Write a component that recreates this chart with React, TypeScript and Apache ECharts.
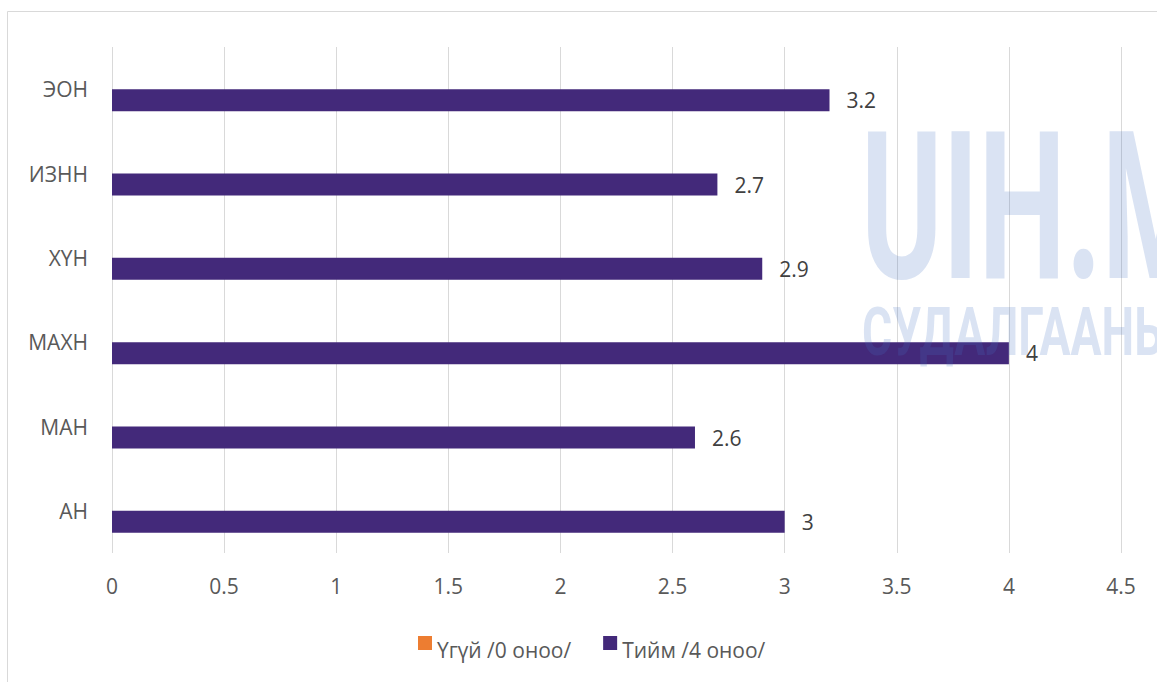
import React, { useEffect, useRef } from "react";
import * as echarts from "echarts";

const categories = ["АН", "МАН", "МАХН", "ХҮН", "ИЗНН", "ЭОН"];
const noValues = [0, 0, 0, 0, 0, 0];
const yesValues = [3, 2.6, 4, 2.9, 2.7, 3.2];
const seriesNames = ["Үгүй /0 оноо/", "Тийм /4 оноо/"];
const seriesColors = ["#ed7d31", "#43297a"];

const FONT = "'Open Sans', sans-serif";
// square in the upper half of a 14x28 icon box, so the text sits a bit lower
const LEGEND_ICON = "path://M0,0h14v14h-14zM0,27.95h0.05v0.05h-0.05z";

export default function App() {
  const ref = useRef<HTMLDivElement>(null);
  useEffect(() => {
    if (!ref.current) return;
    const chart = echarts.init(ref.current, null, { renderer: "svg" });
    chart.setOption({
      animation: false,
      backgroundColor: "#ffffff",
      grid: { left: 112, right: 36, top: 47, bottom: 129, containLabel: false },
      legend: {
        data: seriesNames,
        left: 418,
        top: 636,
        padding: 0,
        itemWidth: 14,
        itemHeight: 28,
        itemGap: 32,
        icon: LEGEND_ICON,
        textStyle: {
          fontSize: 21,
          color: "#595959",
          fontFamily: FONT,
        },
      },
      xAxis: {
        type: "value",
        min: 0,
        max: 4.5,
        interval: 0.5,
        axisLine: { show: false },
        axisTick: { show: false },
        splitLine: { show: true, lineStyle: { color: "#d9d9d9", width: 1 } },
        axisLabel: { fontSize: 21, color: "#595959", fontFamily: FONT, margin: 22 },
      },
      yAxis: {
        type: "category",
        data: categories,
        axisLine: { show: false },
        axisTick: { show: false },
        axisLabel: { fontSize: 21, color: "#595959", fontFamily: FONT, margin: 24 },
      },
      series: [
        {
          name: seriesNames[0],
          type: "bar",
          data: noValues,
          barWidth: 22,
          barGap: "0%",
          itemStyle: { color: seriesColors[0] },
        },
        {
          name: seriesNames[1],
          type: "bar",
          data: yesValues,
          barWidth: 22,
          barGap: "0%",
          itemStyle: { color: seriesColors[1] },
          label: {
            show: true,
            position: "right",
            distance: 17,
            fontSize: 21,
            color: "#404040",
            fontFamily: FONT,
          },
        },
      ],
      graphic: [
        {
          type: "rect",
          z: 200,
          silent: true,
          shape: { x: 7.5, y: 11.5, width: 1300, height: 800 },
          style: { fill: "none", stroke: "#d9d9d9", lineWidth: 1 },
        },
        {
          type: "text",
          z: 150,
          silent: true,
          x: 861,
          y: 207,
          scaleX: 0.6,
          style: {
            text: "UIH.M",
            fontFamily: "Roboto, sans-serif",
            fontWeight: "bold",
            fontSize: 206,
            fill: "rgba(68,114,196,0.2)",
            textAlign: "left",
            textVerticalAlign: "middle",
          },
        },
        {
          type: "text",
          z: 150,
          silent: true,
          x: 862,
          y: 332,
          scaleX: 0.7,
          style: {
            text: "СУДАЛГААНЫ",
            fontFamily: "Roboto, sans-serif",
            fontWeight: "bold",
            fontSize: 66,
            fill: "rgba(68,114,196,0.2)",
            textAlign: "left",
            textVerticalAlign: "middle",
          },
        },
      ],
    });
    return () => chart.dispose();
  }, []);
  return (
    <div
      ref={ref}
      style={{ position: "fixed", left: 0, top: 0, width: 1157, height: 682 }}
    />
  );
}
